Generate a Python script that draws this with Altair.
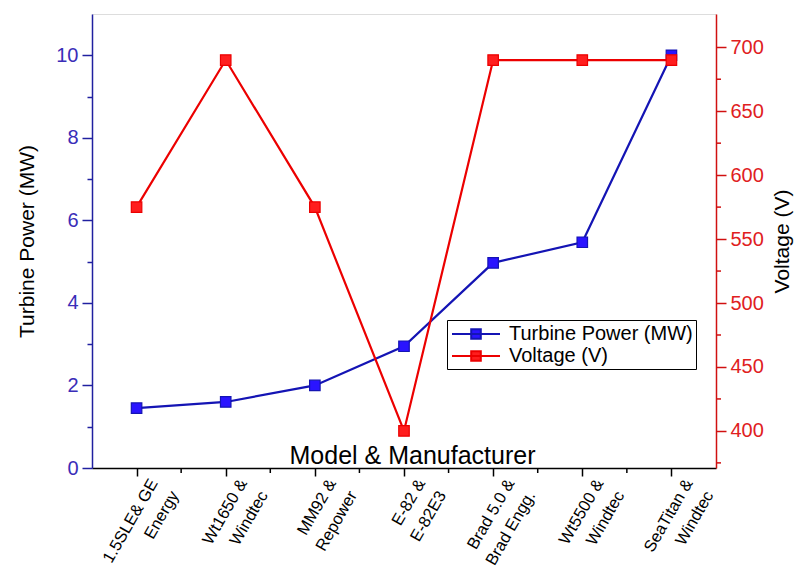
import altair as alt
import pandas as pd

categories = ["1.5SLE& GE\nEnergy", "Wt1650 &\nWindtec", "MM92 &\nRepower",
              "E-82 &\nE-82E3", "Brad 5.0 &\nBrad Engg.", "Wt5500 &\nWindtec",
              "SeaTitan &\nWindtec"]
power_mw = [1.45, 1.6, 2.0, 2.95, 4.97, 5.47, 10.0]
voltage_v = [575, 690, 575, 400, 690, 690, 690]
series_names = ["Turbine Power (MW)", "Voltage (V)"]
power_ticks = list(range(0, 11))
voltage_major = [400, 450, 500, 550, 600, 650, 700]
voltage_minor = [375, 425, 475, 525, 575, 625, 675]

df = pd.DataFrame({"model": categories, "power": power_mw, "voltage": voltage_v})
minor_v = pd.DataFrame({"voltage": voltage_minor})
mid_x = pd.DataFrame({"model": categories[:-1]})

FONT = "Liberation Sans"
BLUE_LINE = "#1414b4"
RED_LINE = "#ec0000"
BLUE_FILL = "#2a14ff"
RED_FILL = "#ff1e1e"
BLUE_AXIS = "#2020a0"
RED_AXIS = "#d01010"

W, H = 624, 454
STEP = W / len(categories)

sym_path = "M-2.4,0H2.4M-0.48,-0.48H0.48V0.48H-0.48Z"
legend = alt.Legend(title=None, orient="none", legendX=355, legendY=306,
                    strokeColor="black", fillColor="white", padding=3,
                    symbolType=sym_path, symbolSize=400, symbolStrokeWidth=2,
                    symbolOffset=15, labelOffset=22,
                    labelFont=FONT, labelFontSize=20, labelColor="black",
                    rowPadding=1, labelLimit=300)

color_scale = alt.Scale(domain=series_names, range=[BLUE_LINE, RED_LINE])
fill_scale = alt.Scale(domain=series_names, range=[BLUE_FILL, RED_FILL])
x_scale = alt.Scale(type="point", padding=0.5)

x_enc = alt.X("model:N", sort=categories, scale=x_scale,
              axis=alt.Axis(title="Model & Manufacturer", labelAngle=300,
                            labelAlign="right", labelBaseline="top",
                            labelExpr="split(datum.label, '\\n')",
                            labelFont=FONT, labelFontSize=16.5, labelColor="black",
                            labelLineHeight=24, labelPadding=0, labelOffset=10,
                            tickSize=8, tickColor="black", tickWidth=1.5,
                            domainColor="black", domainWidth=1.5,
                            titleFont=FONT, titleFontSize=25, titleFontWeight="normal",
                            titleColor="black", titleBaseline="alphabetic",
                            titleY=-5, titleX=320, titleAlign="center",
                            grid=False))

left_axis = alt.Axis(title="Turbine Power (MW)", orient="left", values=power_ticks,
                     labelExpr="datum.value % 2 == 0 ? datum.label : ''",
                     tickSize={"condition": {"test": "datum.value % 2 == 0", "value": 10}, "value": 5},
                     tickColor=BLUE_AXIS, tickWidth=1.5,
                     domainColor=BLUE_AXIS, domainWidth=1.5,
                     labelFont=FONT, labelFontSize=20, labelColor="#3a2db8",
                     labelPadding=4,
                     titleFont=FONT, titleFontSize=21, titleFontWeight="normal",
                     titleColor="black", titlePadding=18, grid=False)

right_axis = alt.Axis(title="Voltage (V)", orient="right", values=voltage_major,
                      tickSize=10, tickColor=RED_AXIS, tickWidth=1.5,
                      domainColor=RED_AXIS, domainWidth=1.5,
                      labelFont=FONT, labelFontSize=20, labelColor="#e0201e",
                      labelPadding=4,
                      titleFont=FONT, titleFontSize=21, titleFontWeight="normal",
                      titleColor="black", titleAngle=270, titleBaseline="top",
                      titlePadding=8, grid=False)

base = alt.Chart(df)

x_mid = alt.X("model:N", sort=categories, scale=x_scale)
x_minor = alt.Chart(mid_x).mark_rule(color="black", strokeWidth=1.5, xOffset=STEP / 2).encode(
    x=x_mid, y=alt.value(H), y2=alt.value(H + 5))

p_line = base.mark_line(strokeWidth=2.2).encode(
    x=x_enc,
    y=alt.Y("power:Q", scale=alt.Scale(domain=[0, 11], nice=False, zero=False), axis=left_axis),
    color=alt.Color("series:N", scale=color_scale, legend=legend),
).transform_calculate(series="'Turbine Power (MW)'")

p_pt = base.mark_point(shape="square", size=110, filled=False, opacity=1, strokeWidth=1.2).encode(
    x=x_enc,
    y=alt.Y("power:Q"),
    color=alt.Color("series:N", scale=color_scale, legend=legend),
    fill=alt.Fill("series:N", scale=fill_scale, legend=legend),
).transform_calculate(series="'Turbine Power (MW)'")

v_line = base.mark_line(strokeWidth=2.2).encode(
    x=x_enc,
    y=alt.Y("voltage:Q", scale=alt.Scale(domain=[371, 726], nice=False, zero=False), axis=right_axis),
    color=alt.Color("series:N", scale=color_scale, legend=legend),
).transform_calculate(series="'Voltage (V)'")

v_pt = base.mark_point(shape="square", size=110, filled=False, opacity=1, strokeWidth=1.2).encode(
    x=x_enc,
    y=alt.Y("voltage:Q"),
    color=alt.Color("series:N", scale=color_scale, legend=legend),
    fill=alt.Fill("series:N", scale=fill_scale, legend=legend),
).transform_calculate(series="'Voltage (V)'")

v_minor = alt.Chart(minor_v).mark_rule(color=RED_AXIS, strokeWidth=1.5).encode(
    y=alt.Y("voltage:Q"), x=alt.value(W), x2=alt.value(W + 5))

chart = alt.layer(
    alt.layer(x_minor, p_line, p_pt),
    alt.layer(v_minor, v_line, v_pt),
).resolve_scale(y="independent").properties(
    width=W, height=H,
    autosize=alt.AutoSizeParams(type="none"),
    padding={"left": 84, "top": 6, "right": 78, "bottom": 101},
    background="white",
).configure_view(stroke="black", strokeWidth=1.5).configure(font=FONT)

chart.save("out.html", embed_options={"renderer": "svg", "actions": False})
